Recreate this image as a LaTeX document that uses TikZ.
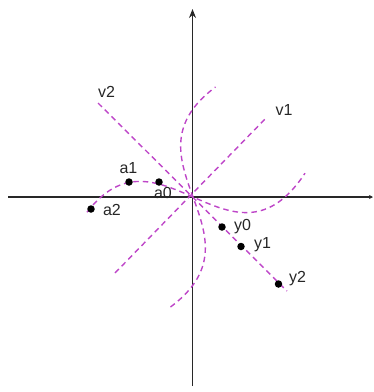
\documentclass[tikz,border=0pt]{standalone}
\usepackage{fontspec}
\setmainfont{Liberation Sans}
\usetikzlibrary{arrows.meta}
\definecolor{curvecol}{RGB}{190,70,200}
\definecolor{axiscol}{RGB}{40,40,40}
\tikzset{
  axis/.style={draw=axiscol, line width=1.2pt},
  curve/.style={draw=curvecol, line width=1.4pt, dash pattern=on 5.5pt off 4pt},
  dot/.style={circle, fill=black, inner sep=0pt, minimum size=7.5pt},
  lbl/.style={font=\fontsize{16}{16}\selectfont, text=black!85, inner sep=0pt},
}
\begin{document}
\begin{tikzpicture}[x=1pt,y=-1pt]
\useasboundingbox (0,0) rectangle (374,392);
% axes
\coordinate (xl) at (8,197);
\coordinate (xr) at (373,197);
\coordinate (yb) at (192.5,386);
\coordinate (yt) at (192.5,9);
\draw[axis, -{Stealth[length=4pt,width=4pt]}] (xl) -- (xr);
\draw[axis, -{Stealth[length=9pt,width=7pt]}] (yb) -- (yt);
% straight dashed lines
\coordinate (v1a) at (115,273);
\coordinate (v1b) at (267,117);
\coordinate (v2a) at (98,103);
\coordinate (v2b) at (287,291);
\draw[curve] (v1a) -- (v1b);
\draw[curve] (v2a) -- (v2b);
% cubic curves
\draw[curve] plot[domain=-106:112, samples=80, variable=\t, smooth]
  ({193+\t},{197-(52*(\t/100)*(\t/100)*(\t/100)-0.4401*\t)});
\draw[curve] plot[domain=-110:110, samples=80, variable=\s, smooth]
  ({193+47*(\s/100)*(\s/100)*(\s/100)-0.364*\s},{197-\s});
% points
\node[dot] (a0) at (159,182) {};
\node[dot] (a1) at (129,182) {};
\node[dot] (a2) at (91,209) {};
\node[dot] (y0) at (222,227) {};
\node[dot] (y1) at (241,246.5) {};
\node[dot] (y2) at (278.5,284) {};
% labels
\node[lbl] (lv2) at (106.5,91.5) {v2};
\node[lbl] (lv1) at (284,110) {v1};
\node[lbl] (la1) at (128.5,168.5) {a1};
\node[lbl] (la0) at (163,193) {a0};
\node[lbl] (la2) at (112,210) {a2};
\node[lbl] (ly0) at (242.5,226.5) {y0};
\node[lbl] (ly1) at (262.5,245) {y1};
\node[lbl] (ly2) at (297.5,278.5) {y2};
\end{tikzpicture}
\end{document}
